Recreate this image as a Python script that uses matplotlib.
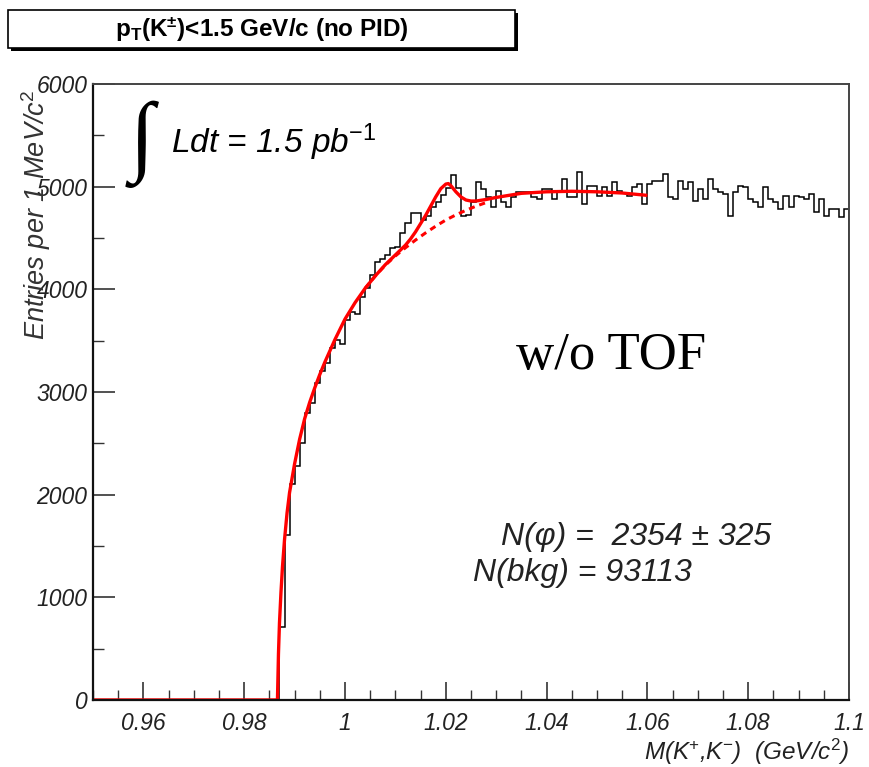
# K+K- invariant mass without TOF, with phi fit
import matplotlib
matplotlib.use('Agg')
import matplotlib.pyplot as plt
from matplotlib.patches import Rectangle
from matplotlib.ticker import MultipleLocator, FuncFormatter
import numpy as np

matplotlib.rcParams['font.family'] = ['Liberation Sans', 'DejaVu Sans']
matplotlib.rcParams['mathtext.fontset'] = 'custom'
matplotlib.rcParams['mathtext.rm'] = 'Liberation Sans'
matplotlib.rcParams['mathtext.it'] = 'Liberation Sans:italic'
matplotlib.rcParams['mathtext.bf'] = 'Liberation Sans:bold'

# histogram, 1 MeV bins from 0.95 to 1.1 GeV
mass_lo = 0.95
mass_hi = 1.1
entries = [0] * 37 + [
    711, 1607, 2103, 2278, 2500, 2795, 2890, 3083, 3200, 3278,
    3424, 3505, 3470, 3700, 3780, 3760, 3927, 4011, 4138, 4268,
    4300, 4333, 4400, 4413, 4547, 4645, 4742, 4740, 4674, 4718,
    4800, 4850, 4920, 4990, 5110, 4990, 4718, 4720, 4847, 5042,
    4977, 4900, 4799, 4961, 4850, 4799, 4900, 4945, 4945, 4945,
    4900, 4883, 4977, 4977, 4880, 4950, 5075, 4896, 4896, 5139,
    4831, 5010, 5010, 4912, 4993, 4912, 5042, 4961, 4940, 4912,
    4993, 5026, 4831, 5026, 5058, 5058, 5123, 4896, 4880, 5058,
    4977, 5042, 4864, 4977, 4880, 5075, 4977, 4945, 4929, 4718,
    4945, 5010, 4993, 4880, 4847, 4799, 4993, 4880, 4847, 4783,
    4912, 4799, 4912, 4896, 4880, 4929, 4750, 4880, 4718, 4783,
    4783, 4701, 4783]

# fit: signal + background (solid), background only (dashed)
fit_mass = [0.950, 0.9866, 0.9868, 0.9870, 0.9873, 0.9876, 0.9880, 0.9885,
            0.989, 0.990, 0.991, 0.992, 0.993, 0.994, 0.995, 0.996, 0.997,
            0.998, 0.999, 1.000, 1.002, 1.004, 1.006, 1.008, 1.010, 1.012,
            1.013, 1.014, 1.015, 1.016, 1.017, 1.018, 1.019, 1.020, 1.0205,
            1.021, 1.022, 1.023, 1.024, 1.025, 1.026, 1.028, 1.030, 1.035,
            1.040, 1.045, 1.050, 1.055, 1.060]
fit_total = [0, 0, 450, 750, 1050, 1300, 1560, 1820,
             2020, 2300, 2540, 2740, 2900, 3040, 3170, 3290, 3400,
             3510, 3610, 3710, 3870, 4010, 4130, 4240, 4335, 4430,
             4490, 4560, 4640, 4720, 4810, 4900, 4980, 5025, 5030,
             5010, 4950, 4900, 4870, 4860, 4860, 4875, 4895, 4935,
             4950, 4955, 4950, 4938, 4915]
bkg_mass = [1.004, 1.006, 1.008, 1.010, 1.012, 1.014, 1.016, 1.018, 1.020,
            1.022, 1.024, 1.026, 1.028]
bkg_fit = [4010, 4130, 4235, 4325, 4405, 4480, 4550, 4615, 4675,
           4725, 4770, 4810, 4845]

fig = plt.figure(figsize=(8.69, 7.67), dpi=100)
ax = fig.add_axes([0.107, 0.0874, 0.870, 0.8031])

edges = np.linspace(mass_lo, mass_hi, len(entries) + 1)
ax.stairs(entries, edges, color='black', lw=1.1)
ax.plot(fit_mass, fit_total, color='red', lw=2.4, solid_capstyle='butt')
ax.plot(bkg_mass, bkg_fit, color='red', lw=2.2, ls=(0, (2.0, 1.6)))

ax.set_xlim(mass_lo, mass_hi)
ax.set_ylim(0, 6000)
ax.xaxis.set_major_locator(MultipleLocator(0.02))
ax.xaxis.set_minor_locator(MultipleLocator(0.005))
ax.yaxis.set_major_locator(MultipleLocator(1000))
ax.yaxis.set_minor_locator(MultipleLocator(500))
ax.xaxis.set_major_formatter(FuncFormatter(lambda v, p: '%g' % round(v, 3)))
ax.yaxis.set_major_formatter(FuncFormatter(lambda v, p: '%d' % v))
ax.tick_params(axis='x', which='major', direction='in', length=13, width=1.2,
               pad=9, labelsize=16.5, color='#333333')
ax.tick_params(axis='x', which='minor', direction='in', length=7, width=1.0,
               color='#333333')
ax.tick_params(axis='y', which='major', direction='in', length=16, width=1.2,
               pad=4, labelsize=16.5, color='#333333')
ax.tick_params(axis='y', which='minor', direction='in', length=8, width=1.0,
               color='#333333')
for lab in ax.get_xticklabels() + ax.get_yticklabels():
    lab.set_fontstyle('italic')
    lab.set_color('#222222')
for s in ['left', 'bottom']:
    ax.spines[s].set_linewidth(1.6)
    ax.spines[s].set_color('#111111')
for s in ['top', 'right']:
    ax.spines[s].set_linewidth(1.4)
    ax.spines[s].set_color('#444444')

fig.text(0.041, 1 - 215 / 767, 'Entries per 1 MeV/c$^{2}$', rotation=90,
         ha='center', va='center', fontsize=19.5, style='italic', color='#333333')
fig.text(849 / 869, 1 - 752 / 767, 'M(K$^{+}$,K$^{-}$)  (GeV/c$^{2}$)',
         ha='right', va='center', fontsize=17.5, style='italic', color='#222222')

# title box with shadow
shadow = Rectangle((11 / 869, 1 - 51 / 767), 507 / 869, 38 / 767,
                   transform=fig.transFigure, facecolor='black', edgecolor='none')
box = Rectangle((8 / 869, 1 - 48 / 767), 507 / 869, 38 / 767,
                transform=fig.transFigure, facecolor='white', edgecolor='black', lw=1.2)
fig.add_artist(shadow)
fig.add_artist(box)
fig.text(262 / 869, 1 - 30 / 767,
         r'$\mathbf{p_{T}(K^{\pm})}$<1.5 GeV/c (no PID)',
         ha='center', va='center', fontsize=17.5, fontweight='bold')

ax.text(0.065, 0.902, '\u222b', transform=ax.transAxes, ha='center', va='center',
        fontsize=64, family=['Liberation Serif', 'DejaVu Sans'])
ax.text(0.103, 0.905, 'Ldt = 1.5 pb$^{-1}$', transform=ax.transAxes,
        ha='left', va='center', fontsize=24, style='italic')
ax.text(0.56, 0.558, 'w/o TOF', transform=ax.transAxes, ha='left', va='center',
        fontsize=38, family=['Liberation Serif'])
ax.text(0.54, 0.265, 'N(\u03c6) =  2354 \u00b1 325', transform=ax.transAxes,
        ha='left', va='center', fontsize=23, style='italic', color='#222222')
ax.text(0.502, 0.206, 'N(bkg) = 93113', transform=ax.transAxes,
        ha='left', va='center', fontsize=23, style='italic', color='#222222')

fig.savefig('out.png', dpi=100)
